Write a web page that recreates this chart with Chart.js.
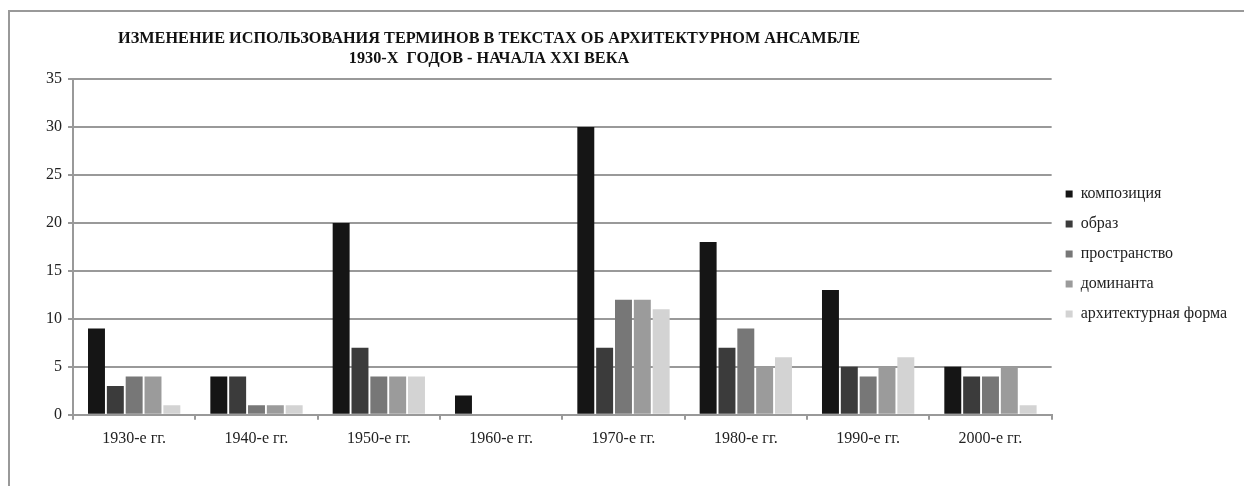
<!DOCTYPE html>
<html>
<head>
<meta charset="utf-8">
<script src="https://cdn.jsdelivr.net/npm/chart.js@4"></script>
<style>
  html, body { margin: 0; padding: 0; background: #fff; }
  #frame {
    position: absolute; left: 8px; top: 10px; right: 0; bottom: 0;
    border-top: 2px solid #999; border-left: 2px solid #999;
  }
  #wrap { position: absolute; left: 0; top: 0; width: 1244px; height: 486px; }
</style>
</head>
<body>
<div id="frame"></div>
<div id="wrap"><canvas id="termsChart"></canvas></div>
<script>
const titleLines = [
    'ИЗМЕНЕНИЕ ИСПОЛЬЗОВАНИЯ ТЕРМИНОВ В ТЕКСТАХ ОБ АРХИТЕКТУРНОМ АНСАМБЛЕ',
    '1930-Х  ГОДОВ - НАЧАЛА XXI ВЕКА'
];
const categories = ['1930-е гг.', '1940-е гг.', '1950-е гг.', '1960-е гг.', '1970-е гг.', '1980-е гг.', '1990-е гг.', '2000-е гг.'];
const seriesNames = ['композиция', 'образ', 'пространство', 'доминанта', 'архитектурная форма'];
const kompoziciya = [9, 4, 20, 2, 30, 18, 13, 5];
const obraz = [3, 4, 7, 0, 7, 7, 5, 4];
const prostranstvo = [4, 1, 4, 0, 12, 9, 4, 4];
const dominanta = [4, 1, 4, 0, 12, 5, 5, 5];
const arhForma = [1, 1, 4, 0, 11, 6, 6, 1];
const yTicks = [0, 5, 10, 15, 20, 25, 30, 35];

const seriesValues = [kompoziciya, obraz, prostranstvo, dominanta, arhForma];
const seriesColors = ['#151515', '#3b3b3b', '#777777', '#9b9b9b', '#d3d3d3'];

// title is drawn left of the plot centre, as in the original
const titlePlugin = {
    id: 'leftTitle',
    afterDraw(chart) {
        const c = chart.ctx;
        c.save();
        c.fillStyle = '#111';
        c.font = 'bold 16px "Liberation Serif", serif';
        c.textAlign = 'center';
        c.textBaseline = 'middle';
        const w0 = c.measureText(titleLines[0]).width;
        const sx = 742 / w0;
        titleLines.forEach((line, i) => {
            c.save();
            c.translate(489, 39 + i * 20);
            c.scale(sx, 1);
            c.fillText(line, 0, 0);
            c.restore();
        });
        c.restore();
    }
};

const ctx = document.getElementById('termsChart').getContext('2d');

let termsChart = new Chart(ctx, {
    type: 'bar',
    data: {
        labels: categories,
        datasets: seriesNames.map((name, i) => ({
            label: name,
            data: seriesValues[i],
            backgroundColor: seriesColors[i],
            borderWidth: 0,
            categoryPercentage: 0.77,
            barPercentage: 0.9
        }))
    },
    options: {
        responsive: true,
        maintainAspectRatio: false,
        animation: false,
        layout: { padding: { left: 40, top: 79, right: 7, bottom: 29 } },
        scales: {
            x: {
                grid: {
                    offset: true,
                    drawOnChartArea: false,
                    drawTicks: true,
                    tickLength: 5,
                    color: '#999',
                    lineWidth: 2
                },
                border: { color: '#999', width: 2 },
                ticks: {
                    color: '#222',
                    padding: 9,
                    font: { family: '"Liberation Serif", serif', size: 16 }
                }
            },
            y: {
                min: 0,
                max: 35,
                afterBuildTicks: axis => { axis.ticks = yTicks.map(v => ({ value: v })); },
                grid: { color: '#999', lineWidth: 2, tickLength: 5 },
                border: { color: '#999', width: 2 },
                ticks: {
                    color: '#222',
                    padding: 6,
                    font: { family: '"Liberation Serif", serif', size: 16 }
                }
            }
        },
        plugins: {
            legend: {
                position: 'right',
                fullSize: false,
                title: { display: true, text: ' ', font: { size: 10 }, padding: 1 },
                labels: {
                    boxWidth: 7,
                    boxHeight: 7,
                    padding: 14,
                    color: '#222',
                    font: { family: '"Liberation Serif", serif', size: 16 }
                }
            },
            tooltip: { enabled: false },
            title: { display: false }
        }
    },
    plugins: [titlePlugin]
});
</script>
</body>
</html>
